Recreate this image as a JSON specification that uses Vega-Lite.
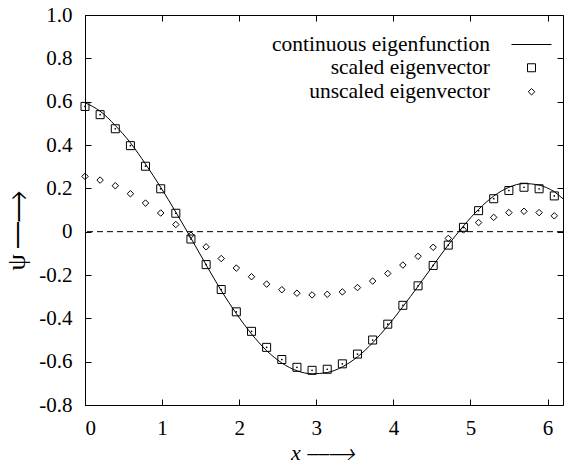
{
  "$schema": "https://vega.github.io/schema/vega-lite/v6.json",
  "width": 478,
  "height": 390,
  "autosize": {"type": "none"},
  "padding": {"left": 85, "top": 15, "right": 2, "bottom": 59},
  "background": "white",
  "config": {
    "view": {"stroke": "black", "strokeWidth": 1},
    "font": "Liberation Serif",
    "style": {
      "guide-label": {"font": "Liberation Serif", "fill": "black"},
      "guide-title": {"font": "Liberation Serif", "fill": "black"}
    },
    "axis": {
      "domain": false,
      "grid": false,
      "tickColor": "black",
      "tickSize": -6,
      "labelColor": "black",
      "labelFont": "Liberation Serif",
      "labelFontSize": 21,
      "titleFont": "Liberation Serif",
      "titleColor": "black",
      "titleFontWeight": "normal"
    },
    "legend": {
      "orient": "none",
      "legendX": 426,
      "legendY": 9,
      "padding": 0,
      "labelAlign": "right",
      "labelOffset": -62,
      "labelFont": "Liberation Serif",
      "labelFontSize": 21.5,
      "labelColor": "black",
      "labelLimit": 400,
      "rowPadding": 1,
      "symbolStrokeColor": "black",
      "symbolStrokeWidth": 1,
      "symbolFillColor": "transparent"
    }
  },
  "datasets": {
    "pts": [
      {"x": 0.000, "s": 0.578, "u": 0.255, "c": 0.595},
      {"x": 0.196, "s": 0.540, "u": 0.238, "c": 0.556},
      {"x": 0.393, "s": 0.475, "u": 0.212, "c": 0.490},
      {"x": 0.589, "s": 0.397, "u": 0.175, "c": 0.410},
      {"x": 0.785, "s": 0.302, "u": 0.132, "c": 0.312},
      {"x": 0.982, "s": 0.198, "u": 0.086, "c": 0.205},
      {"x": 1.178, "s": 0.085, "u": 0.033, "c": 0.090},
      {"x": 1.374, "s": -0.034, "u": -0.016, "c": -0.030},
      {"x": 1.571, "s": -0.152, "u": -0.070, "c": -0.153},
      {"x": 1.767, "s": -0.267, "u": -0.124, "c": -0.272},
      {"x": 1.963, "s": -0.370, "u": -0.168, "c": -0.378},
      {"x": 2.160, "s": -0.460, "u": -0.208, "c": -0.472},
      {"x": 2.356, "s": -0.534, "u": -0.242, "c": -0.549},
      {"x": 2.553, "s": -0.590, "u": -0.268, "c": -0.606},
      {"x": 2.749, "s": -0.626, "u": -0.284, "c": -0.642},
      {"x": 2.945, "s": -0.640, "u": -0.292, "c": -0.656},
      {"x": 3.142, "s": -0.635, "u": -0.289, "c": -0.650},
      {"x": 3.338, "s": -0.610, "u": -0.278, "c": -0.624},
      {"x": 3.534, "s": -0.565, "u": -0.258, "c": -0.578},
      {"x": 3.731, "s": -0.500, "u": -0.228, "c": -0.513},
      {"x": 3.927, "s": -0.427, "u": -0.193, "c": -0.435},
      {"x": 4.123, "s": -0.340, "u": -0.154, "c": -0.346},
      {"x": 4.320, "s": -0.250, "u": -0.114, "c": -0.252},
      {"x": 4.516, "s": -0.156, "u": -0.072, "c": -0.156},
      {"x": 4.712, "s": -0.062, "u": -0.031, "c": -0.061},
      {"x": 4.909, "s": 0.020, "u": 0.008, "c": 0.026},
      {"x": 5.105, "s": 0.097, "u": 0.042, "c": 0.103},
      {"x": 5.301, "s": 0.152, "u": 0.066, "c": 0.164},
      {"x": 5.498, "s": 0.190, "u": 0.088, "c": 0.205},
      {"x": 5.694, "s": 0.205, "u": 0.094, "c": 0.222},
      {"x": 5.890, "s": 0.198, "u": 0.088, "c": 0.215},
      {"x": 6.087, "s": 0.165, "u": 0.073, "c": 0.185}
    ],
    "curveEnd": [
      {"x": 6.087, "c": 0.185},
      {"x": 6.2, "c": 0.152}
    ],
    "zero": [{"y": 0}]
  },
  "resolve": {"axis": {"x": "independent", "y": "independent"}},
  "layer": [
    {
      "data": {"name": "zero"},
      "mark": {"type": "rule", "strokeDash": [6, 4], "color": "black", "strokeWidth": 1},
      "encoding": {
        "y": {
          "field": "y", "type": "quantitative",
          "scale": {"domain": [-0.8, 1.0], "nice": false},
          "axis": {"orient": "right", "values": [-0.8, -0.6, -0.4, -0.2, 0, 0.2, 0.4, 0.6, 0.8, 1.0], "labels": false, "title": null}
        }
      }
    },
    {
      "data": {"name": "pts"},
      "mark": {"type": "line", "color": "black", "strokeWidth": 1, "interpolate": "monotone", "clip": true},
      "encoding": {
        "x": {
          "field": "x", "type": "quantitative",
          "scale": {"domain": [0, 6.2], "nice": false, "zero": false},
          "axis": {"orient": "bottom", "values": [0, 1, 2, 3, 4, 5, 6], "labelPadding": 18, "labelFont": "Liberation Serif", "titleFont": "Liberation Serif", "title": "x ⎯⎯⟶", "titleFontStyle": "italic", "titleFontSize": 22, "titleX": 237, "titleY": 54, "titleAlign": "center", "titleBaseline": "alphabetic"}
        },
        "y": {
          "field": "c", "type": "quantitative",
          "scale": {"domain": [-0.8, 1.0], "nice": false},
          "axis": {"orient": "left", "values": [-0.8, -0.6, -0.4, -0.2, 0, 0.2, 0.4, 0.6, 0.8, 1.0], "labelPadding": 19, "labelFont": "Liberation Serif", "titleFont": "Liberation Serif", "labelExpr": "datum.value == 0 ? '0' : (datum.value < 0 ? '-' : '') + format(abs(datum.value), '.1f')", "title": "ψ ⎯⎯⟶", "titleFontSize": 26, "titleX": -61, "titleY": 215, "titleAngle": -90, "titleAlign": "center", "titleBaseline": "alphabetic"}
        }
      }
    },
    {
      "data": {"name": "curveEnd"},
      "mark": {"type": "line", "color": "black", "strokeWidth": 1, "interpolate": "monotone", "clip": true},
      "encoding": {
        "x": {"field": "x", "type": "quantitative", "axis": {"orient": "top", "values": [0, 1, 2, 3, 4, 5, 6], "labels": false, "title": null}},
        "y": {"field": "c", "type": "quantitative", "axis": null}
      }
    },
    {
      "data": {"name": "pts"},
      "transform": [{"fold": ["s", "u"], "as": ["key", "val"]}, {"lookup": "key", "from": {"data": {"values": [{"key": "s", "series": "scaled eigenvector"}, {"key": "u", "series": "unscaled eigenvector"}]}, "key": "key", "fields": ["series"]}}],
      "mark": {"type": "point", "filled": false, "color": "black", "strokeWidth": 1, "opacity": 1},
      "encoding": {
        "x": {"field": "x", "type": "quantitative", "axis": null},
        "y": {"field": "val", "type": "quantitative", "axis": null},
        "shape": {
          "field": "series", "type": "nominal",
          "scale": {"domain": ["continuous eigenfunction", "scaled eigenvector", "unscaled eigenvector"], "range": ["stroke", "square", "diamond"]},
          "legend": {"title": null}
        },
        "size": {
          "field": "series", "type": "nominal",
          "scale": {"type": "ordinal", "domain": ["continuous eigenfunction", "scaled eigenvector", "unscaled eigenvector"], "range": [1600, 64, 42]},
          "legend": {"title": null}
        }
      }
    },
    {
      "data": {"name": "pts"},
      "mark": {"type": "point", "filled": true, "color": "black", "size": 3, "shape": "circle", "opacity": 1},
      "encoding": {
        "x": {"field": "x", "type": "quantitative", "axis": null},
        "y": {"field": "s", "type": "quantitative", "axis": null}
      }
    }
  ]
}
